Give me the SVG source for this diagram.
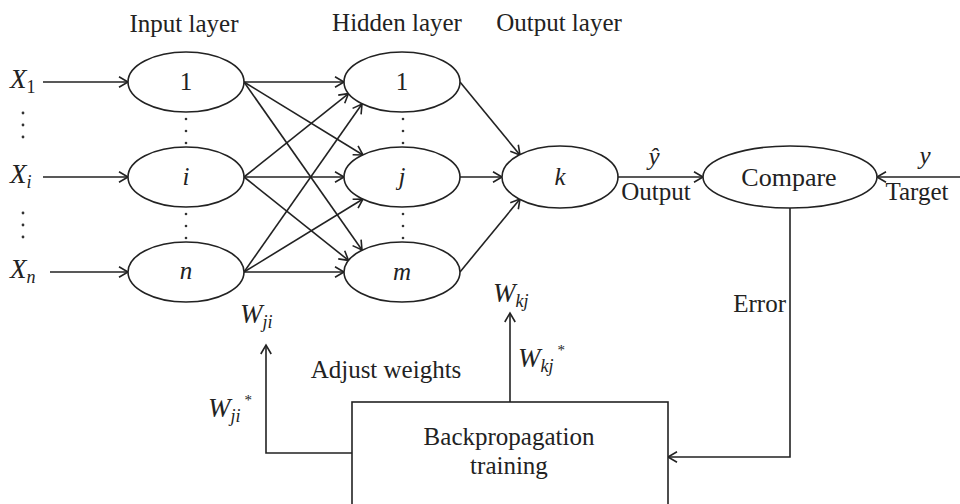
<svg xmlns="http://www.w3.org/2000/svg" width="960" height="504" viewBox="0 0 960 504">
<style>
  text { font-family: "Liberation Serif", "Times New Roman", serif; fill: #222; font-size: 25px; }
  .c { text-anchor: middle; }
  .it { font-style: italic; }
  .big { font-size: 27px; }
  .sub { font-size: 18px; }
  .node { fill: #fff; stroke: #222; stroke-width: 1.6; }
  .conn { fill: none; stroke: #222; stroke-width: 1.6; }
  .dot { fill: #333; }
</style>
<defs>
  <marker id="arr" markerUnits="userSpaceOnUse" markerWidth="14" markerHeight="14" refX="11" refY="7" orient="auto">
    <path d="M2,1.8 L11,7 L2,12.2" fill="none" stroke="#222" stroke-width="1.6"/>
  </marker>
</defs>
<rect width="960" height="504" fill="#fff"/>

<!-- layer titles -->
<text class="c" x="184" y="32">Input layer</text>
<text class="c" x="397" y="31">Hidden layer</text>
<text class="c" x="559" y="31">Output layer</text>

<!-- connectors -->
<g id="connectors" class="conn">
  <line x1="43" y1="82" x2="128" y2="82" marker-end="url(#arr)"/>
  <line x1="43" y1="177" x2="128" y2="177" marker-end="url(#arr)"/>
  <line x1="50" y1="272" x2="128" y2="272" marker-end="url(#arr)"/>

  <line x1="244" y1="82" x2="344" y2="82" marker-end="url(#arr)"/>
  <line x1="244" y1="177" x2="348.5" y2="93.6" marker-end="url(#arr)"/>
  <line x1="244" y1="272" x2="362" y2="104" marker-end="url(#arr)"/>
  <line x1="244" y1="82" x2="363" y2="155" marker-end="url(#arr)"/>
  <line x1="244" y1="177" x2="344" y2="177" marker-end="url(#arr)"/>
  <line x1="244" y1="272" x2="363" y2="199" marker-end="url(#arr)"/>
  <line x1="244" y1="82" x2="362" y2="250" marker-end="url(#arr)"/>
  <line x1="244" y1="177" x2="348.5" y2="260.4" marker-end="url(#arr)"/>
  <line x1="244" y1="272" x2="344" y2="272" marker-end="url(#arr)"/>

  <line x1="460" y1="82" x2="520" y2="155" marker-end="url(#arr)"/>
  <line x1="460" y1="177" x2="502" y2="177" marker-end="url(#arr)"/>
  <line x1="460" y1="272" x2="520" y2="199" marker-end="url(#arr)"/>

  <line x1="618" y1="177" x2="703" y2="177" marker-end="url(#arr)"/>
  <line x1="960" y1="177" x2="877" y2="177" marker-end="url(#arr)"/>

  <polyline points="790,208 790,457 668,457" marker-end="url(#arr)"/>
  <polyline points="352,453 266,453 266,345" marker-end="url(#arr)"/>
  <line x1="510" y1="402" x2="510" y2="313" marker-end="url(#arr)"/>
</g>

<!-- dots -->
<g class="dot">
  <circle cx="23" cy="113" r="1.4"/><circle cx="23" cy="125" r="1.4"/><circle cx="23" cy="137" r="1.4"/>
  <circle cx="23" cy="213" r="1.4"/><circle cx="23" cy="225" r="1.4"/><circle cx="23" cy="237" r="1.4"/>
  <circle cx="186" cy="119" r="1.3"/><circle cx="186" cy="131" r="1.3"/><circle cx="186" cy="143" r="1.3"/>
  <circle cx="186" cy="214" r="1.3"/><circle cx="186" cy="226" r="1.3"/><circle cx="186" cy="238" r="1.3"/>
  <circle cx="403" cy="119" r="1.3"/><circle cx="403" cy="131" r="1.3"/><circle cx="403" cy="143" r="1.3"/>
  <circle cx="403" cy="214" r="1.3"/><circle cx="403" cy="226" r="1.3"/><circle cx="403" cy="238" r="1.3"/>
</g>

<!-- input labels -->
<text x="10" y="88" class="it big">X<tspan class="sub" dy="5" style="font-style:normal">1</tspan></text>
<text x="10" y="183" class="it big">X<tspan class="sub" dy="5">i</tspan></text>
<text x="10" y="278" class="it big">X<tspan class="sub" dy="5">n</tspan></text>

<!-- input layer -->
<g id="in1"><ellipse class="node" cx="186" cy="82" rx="58" ry="30"/><text class="c" x="186" y="90">1</text></g>
<g id="ini"><ellipse class="node" cx="186" cy="177" rx="58" ry="30"/><text class="c it" x="186" y="185">i</text></g>
<g id="inn"><ellipse class="node" cx="186" cy="272" rx="58" ry="30"/><text class="c it" x="186" y="279">n</text></g>

<!-- hidden layer -->
<g id="h1"><ellipse class="node" cx="402" cy="82" rx="58" ry="30"/><text class="c" x="402" y="90">1</text></g>
<g id="hj"><ellipse class="node" cx="402" cy="177" rx="58" ry="30"/><text class="c it" x="402" y="185">j</text></g>
<g id="hm"><ellipse class="node" cx="402" cy="272" rx="58" ry="30"/><text class="c it" x="402" y="280">m</text></g>

<!-- output -->
<g id="outk"><ellipse class="node" cx="560" cy="177" rx="58" ry="31"/><text class="c it" x="560" y="185">k</text></g>

<!-- compare -->
<g id="compare"><ellipse class="node" cx="790" cy="177" rx="87" ry="31"/><text class="c" x="789" y="186" style="font-size:26px">Compare</text></g>

<!-- backprop box -->
<g id="backprop">
  <rect class="node" x="352" y="402" width="316" height="120"/>
  <text class="c" x="509" y="445">Backpropagation</text>
  <text class="c" x="509" y="474">training</text>
</g>

<!-- labels -->
<text class="c it" x="654" y="165">ŷ</text>
<text class="c" x="656" y="200">Output</text>
<text class="c it" x="925" y="164">y</text>
<text class="c" x="917" y="200">Target</text>
<text x="786" y="312" style="text-anchor:end">Error</text>
<text class="c" x="386" y="378">Adjust weights</text>

<text x="240" y="323" class="it big">W<tspan class="sub" dy="5">ji</tspan></text>
<text x="208" y="417" class="it big">W<tspan class="sub" dy="5">ji</tspan><tspan dx="4" dy="-17" style="font-size:15px;font-style:normal">*</tspan></text>
<text x="493" y="302" class="it big">W<tspan class="sub" dy="5">kj</tspan></text>
<text x="518" y="367" class="it big">W<tspan class="sub" dy="5">kj</tspan><tspan dx="4" dy="-17" style="font-size:15px;font-style:normal">*</tspan></text>
</svg>
